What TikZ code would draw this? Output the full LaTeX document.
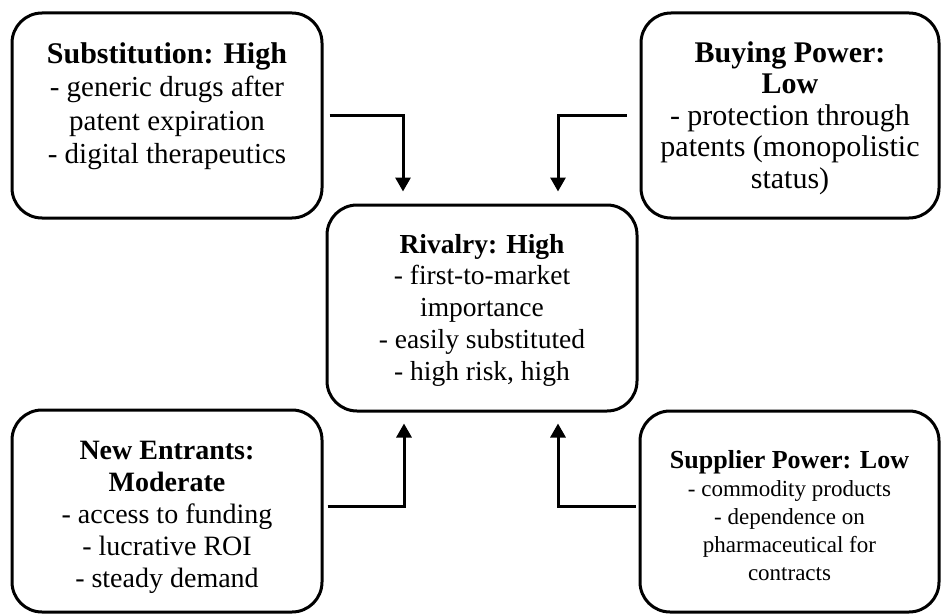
\documentclass[tikz,border=0pt]{standalone}
\usepackage{fontspec}
\setmainfont{Liberation Serif}
\usetikzlibrary{arrows.meta}

\tikzset{
  forcebox/.style={draw=black, line width=3pt, rounded corners=30pt, fill=white, inner sep=0pt},
  forcetext/.style={anchor=north, align=center, inner sep=0pt, text=black},
  link/.style={draw=black, line width=3pt, -{Triangle[width=15pt,length=14pt]}},
}

\begin{document}
\begin{tikzpicture}[x=1pt, y=-1pt]
  \useasboundingbox (0,0) rectangle (942,615);

  % the five boxes of the forces
  \node[forcebox, minimum width=310pt, minimum height=205pt] (sub) at (167,115.5) {};
  \node[forcebox, minimum width=298pt, minimum height=205pt] (buy) at (790,115.5) {};
  \node[forcebox, minimum width=310pt, minimum height=206pt] (riv) at (482,308) {};
  \node[forcebox, minimum width=310pt, minimum height=202pt] (ent) at (167,511) {};
  \node[forcebox, minimum width=299pt, minimum height=201pt] (sup) at (789.5,511.5) {};

  % their texts
  \node[forcetext, font=\fontsize{29}{33.5}\selectfont] (subtxt) at (167,42)
    {{\fontsize{30}{33.5}\selectfont\textbf{Substitution: High}}\\- generic drugs after\\patent expiration\\- digital therapeutics};
  \node[forcetext, font=\fontsize{30}{31.5}\selectfont] (buytxt) at (790,41)
    {\textbf{Buying Power:}\\\textbf{Low}\\- protection through\\patents (monopolistic\\status)};
  \node[forcetext, font=\fontsize{27.5}{31.7}\selectfont] (rivtxt) at (482,234)
    {\textbf{Rivalry: High}\\- first-to-market\\importance\\- easily substituted\\- high risk, high};
  \node[forcetext, font=\fontsize{28}{32}\selectfont] (enttxt) at (167,441)
    {\textbf{New Entrants:}\\\textbf{Moderate}\\- access to funding\\- lucrative ROI\\- steady demand};
  \node[forcetext, font=\fontsize{23}{28}\selectfont] (suptxt) at (789.5,450)
    {{\fontsize{26}{28}\selectfont\textbf{Supplier Power: Low}}\\- commodity products\\- dependence on\\pharmaceutical for\\contracts};

  % connectors into the rivalry box
  \draw[link] ([xshift=6pt]sub.east) -| ([xshift=-79pt,yshift=12pt]riv.north);
  \draw[link] ([xshift=-13pt]buy.west) -| ([xshift=76pt,yshift=12pt]riv.north);
  \draw[link] ([xshift=4pt,yshift=5pt]ent.east) -| ([xshift=-78pt,yshift=-11pt]riv.south);
  \draw[link] ([xshift=-3pt,yshift=5.5pt]sup.west) -| ([xshift=76pt,yshift=-11pt]riv.south);
\end{tikzpicture}
\end{document}
